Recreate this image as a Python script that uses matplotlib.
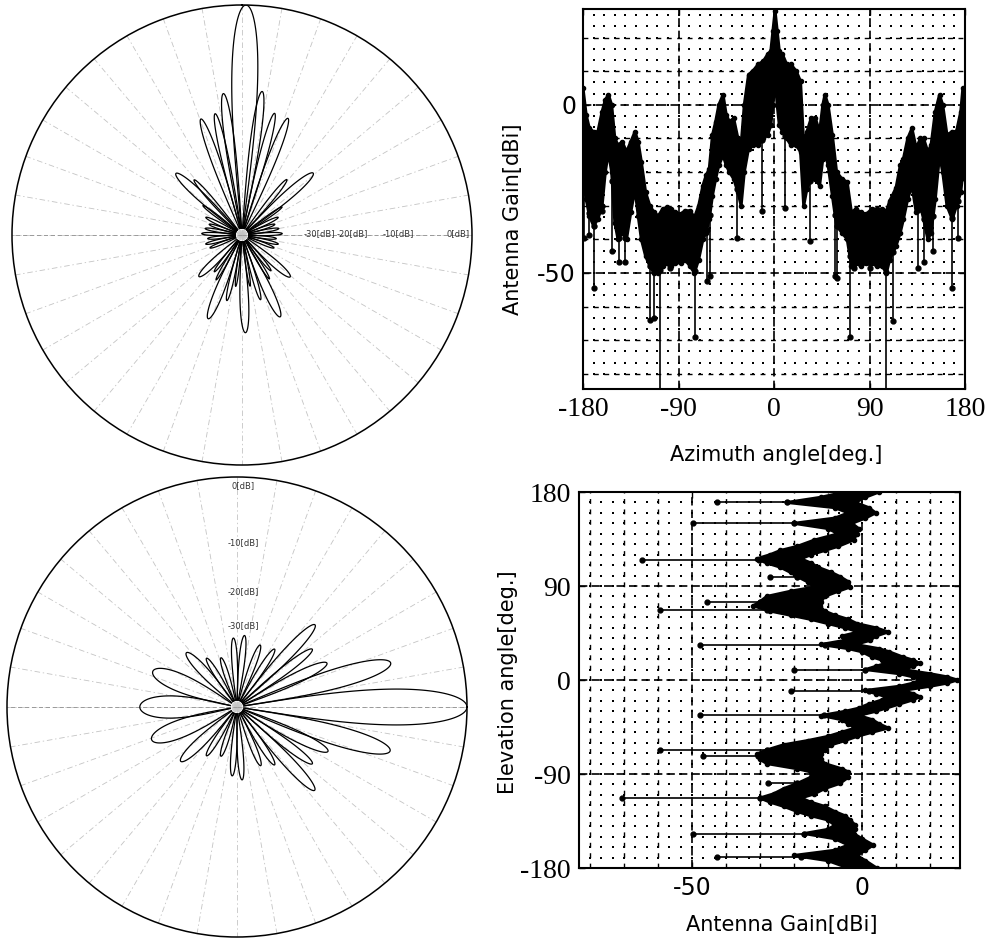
import numpy as np
import matplotlib.pyplot as plt

plt.rcParams['font.family'] = ['DejaVu Sans']
plt.rcParams['lines.scale_dashes'] = False

# ---- azimuth cut (top right): band of the dense trace, upper / lower edge [dBi]
az_angle = [-180, -177, -174, -170, -166, -162, -159, -156, -153, -150, -147, -143, -139, -135,
            -131, -128, -125, -121, -117, -113, -109, -105, -101, -97, -93, -88, -84, -79, -75,
            -71, -67, -64, -61, -58, -55, -52, -48, -45, -42, -38, -34, -31, -28, -24, -20, -15,
            -10, -6, -3, -1, 1, 3, 5, 8, 12, 16, 21, 25, 28, 31, 35, 39, 43, 46, 48, 51, 55, 59,
            64, 69, 73, 77, 82, 87, 92, 97, 102, 106, 109, 115, 119, 122, 126, 130, 134, 138,
            141, 145, 148, 152, 156, 159, 163, 168, 172, 176, 178, 180]
az_top = [5, -3, -7, -8, -8, -2, 1.5, 3, 0, -10, -12, -11, -14, -11,
          -8, -11, -17, -26, -30, -32, -33, -31, -30.5, -31, -32, -32.5, -31.5, -31.5, -33.5,
          -30, -24, -21, -19, -9, -5, 0, 3, -3, -5, -4, -10, -12, 0, 9, 10, 12,
          13, 15, 16, 22, 28, 22, 16, 15, 12, 12, 10, 7, -12, -8, -4, -4, -8, 0, 3, 0, -9, -20,
          -22, -23, -32, -31, -32, -32.5, -31, -31, -31, -31.6, -28.6, -24.7, -18, -16, -10, -7, -12.9, -10,
          -10, -14, -12, -2, 3, 0, -8.9, -8, -7.9, -2, 5, 5]
az_bot = [-22, -28, -33, -36, -34, -30, -20, -14, -20, -35, -40, -38, -40, -32,
          -25, -33, -40, -45, -48, -50, -50, -48, -47, -48, -47, -47, -46, -48, -50,
          -46, -40, -38, -34, -27, -22, -18, -15, -18, -20, -22, -26, -30, -20, -13, -12, -12,
          -10, -9, -6, 0, 8, 0, -6, -8, -10, -12, -12, -14, -30, -25, -22, -22, -24, -16, -14, -18, -27, -36,
          -38, -40, -48, -47, -48, -47, -47, -48, -48, -50, -46, -42, -38, -34, -28, -24, -32, -30,
          -34, -40, -38, -28, -15, -20, -30, -34, -30, -26, -20, -22]
az_null_angle = [-179, -174.5, -170, -162, -152.5, -146, -140, -117, -113.5, -107.5, -98, -74.5,
                 -63.5, -60.5, -35, -11.5, 10.5, 34, 57.5, 59, 71.5, 75.5, 90, 105.5, 112.5,
                 135.5, 141, 150, 167.5, 173.5]
az_null_depth = [-39.6, -38.6, -54.4, -31.6, -43.6, -46.6, -46.6, -64, -63.3, -85, -48.5, -69,
                 -52.5, -51, -39.6, -31.6, -30.6, -40.6, -51, -51.5, -69, -48.5, -48.5, -85, -64.3,
                 -48.5, -46.6, -43.6, -54.5, -39.6]

# ---- elevation cut (bottom right): band of the dense trace, right / left edge [dBi]
el_angle = [180, 175, 170, 165, 160, 155, 150, 145, 140, 134, 128, 124, 120, 116, 112, 108, 103,
            99, 94, 89, 85, 80, 75, 71, 66, 62, 58, 54, 50, 46, 42, 38, 34, 30, 27, 22, 19, 16,
            13, 10, 6, 3, 0, -3, -6, -10, -13, -16, -19, -23, -27, -30, -34, -38, -42, -46, -50,
            -54, -58, -62, -67, -71, -76, -80, -85, -88, -93, -99, -104, -109, -113, -117, -121,
            -126, -130, -134, -139, -143, -147, -152, -158, -163, -168, -173, -180]
el_top = [5, 1, -2, 2, 4, 1, -3, -1, -1.5, -2.5, -7, -11, -15, -18, -15, -13, -9,
          -6.5, -4, -3.5, -7, -11, -12, -12.5, -11, -8, -4, -1.5, 4, 7.7, 4, 2.4, -2, 5, 8, 12, 15, 17,
          15, 12, 20, 25, 28, 25, 20, 12, 15, 17, 15, 11, 7, 4, -1, 3, 5, 7.7, 3,
          -1.5, -5, -9, -11, -12, -12, -11, -6, -4, -4, -6.5, -11, -14, -18, -15, -11,
          -8, -5, -3.5, -2, -2, -2.5, 0, 3.3, 1, -1.5, 1, 4.3]
el_bot = [-5, -12, -22, -8, -4, -8, -20, -10, -7, -14, -19, -24, -27, -31, -28, -24, -21,
          -19, -16, -14, -21, -28, -30, -32, -27, -21, -15, -10, -5, -1, -6, -5, -12, -4, 0, 3, 6, 7,
          4, 1, 11, 15, 17, 15, 11, 1, 4, 7, 6, 2, -1, -5, -12, -6, -4, -2, -6,
          -10, -16, -23, -28, -31, -30, -28, -19, -15, -15, -19, -23, -26, -30, -27, -23,
          -19, -15, -10, -8, -10, -17, -8, -4, -8, -20, -10, -4]
el_null_angle = [170, 150, 115, 99, 75, 67, 33.5, 10, -11, -33.5, -67, -73, -99, -113, -147, -169]
el_null_depth = [-42.7, -49.6, -64.8, -27, -45.7, -59.4, -47.6, -20, -21, -47.6, -59.4, -46.7,
                 -27.5, -70.7, -49.6, -42.7]

# ---- polar patterns: lobe direction [deg], peak [dB], half width [deg]
top_lobe_dir = [1, -7.5, 8, -12.5, 15, -19.5, 21.5, -47, 49, -41, 39, -53, 55,
                178, -158, 155, -167, 164, -134, 131, -143, 141, -150, 148, -173, 171,
                -64, -72, -80, -88, -96, -104, -112,
                64, 72, 80, 88, 96, 104, 112]
top_lobe_peak = [0, -15.2, -14.8, -18.4, -18.1, -18.6, -18.2, -24.3, -23.6, -27.3, -27.6, -31.5, -31.5,
                 -23, -24.3, -24.3, -28.3, -28.3, -29.6, -28.9, -32, -32, -31, -31, -31, -31,
                 -33, -34, -33.5, -33, -34, -33.5, -34,
                 -33, -34, -33.5, -33, -34, -33.5, -34]
top_lobe_width = [6.5, 3.8, 3.8, 3.4, 3.4, 4, 4, 5.5, 5.5, 3.5, 3.5, 3, 3,
                  5, 5.5, 5.5, 3.5, 3.5, 6, 6, 3.5, 3.5, 3, 3, 2.5, 2.5,
                  4, 4, 4, 4, 4, 4, 4,
                  4, 4, 4, 4, 4, 4, 4]

bot_lobe_dir = [0, 16, -16, 26, -26, 37.5, -37, 46.5, -47, 57, -57, 69.5, -68, 84, -86, 93, -94,
                108, -108, 122, -122, 133, -136, 157, -159, 180]
bot_lobe_peak = [0, -12.2, -12.3, -22.6, -22.4, -23.5, -23.6, -20.3, -20.2, -28, -28, -28.5, -29,
                 -27.5, -27.3, -28, -28, -31, -31, -30, -30, -27.1, -26.4, -24.1, -24.1, -23.1]
bot_lobe_width = [9, 7, 7, 6, 6, 5, 5, 5.5, 5.5, 5, 5, 5, 5, 4.5, 4.5, 4.5, 4.5,
                  5, 5, 5, 5, 7, 7, 11, 11, 13]

W, H = 995, 942
fig = plt.figure(figsize=(W / 100, H / 100), dpi=100)


def box(x0, y0, x1, y1):
    return [x0 / W, 1 - y1 / H, (x1 - x0) / W, (y1 - y0) / H]


def px_text(x, y, s, **kw):
    fig.text(x / W, 1 - y / H, s, **kw)


def setup_polar(ax, zero, direction, dark_angles):
    ax.set_theta_zero_location(zero)
    ax.set_theta_direction(direction)
    ax.set_ylim(-40, 0)
    ax.set_xticks(np.radians(np.arange(0, 360, 10)))
    ax.set_xticklabels([])
    ax.set_yticks([])
    ax.xaxis.grid(True, color='#c4c4c4', linestyle=(0, (4, 2, 1, 2)), lw=0.6)
    ax.tick_params(axis='x', length=0)
    ax.spines['polar'].set_linewidth(1.1)
    for a in dark_angles:
        ax.plot([np.radians(a)] * 2, [-40, 0], color='#9a9a9a', ls=(0, (3, 2)), lw=0.7)


def petals(ax, dirs, peaks, widths, q=0.45, base=-38.8):
    for a, p, w in zip(dirs, peaks, widths):
        t = np.linspace(-w, w, 120)
        r = base + (p - base) * np.clip(np.cos(np.pi / 2 * t / w), 0, None) ** q
        ax.plot(np.radians(a + t), r, color='k', lw=0.9)


# top-left polar (azimuth)
axp1 = fig.add_axes(box(12, 5, 472, 465), projection='polar')
setup_polar(axp1, 'N', -1, [90, 270])
petals(axp1, top_lobe_dir, top_lobe_peak, top_lobe_width)
for x, s in [(319, '-30[dB]'), (352, '-20[dB]'), (398, '-10[dB]'), (458, '0[dB]')]:
    px_text(x, 234, s, fontsize=6, ha='center', va='center', color='#333333')

# bottom-left polar (elevation)
axp2 = fig.add_axes(box(7, 477, 467, 937), projection='polar')
setup_polar(axp2, 'E', 1, [0, 180])
petals(axp2, bot_lobe_dir, bot_lobe_peak, bot_lobe_width)
for y, s in [(486, '0[dB]'), (543, '-10[dB]'), (592, '-20[dB]'), (626, '-30[dB]')]:
    px_text(243, y, s, fontsize=6, ha='center', va='center', color='#333333')

dash_light = (0, (3.5, 4))
dash_bold = (0, (6, 3))
serif = 'Liberation Serif'


def style_rect(ax):
    for sp in ax.spines.values():
        sp.set_linewidth(1.5)
        sp.set_zorder(5)
    ax.tick_params(direction='in', length=4, width=1, top=True, right=True)


def dot_lattice(ax, xs, ys):
    gx, gy = np.meshgrid(xs, ys)
    ax.scatter(gx.ravel(), gy.ravel(), s=2.2, marker='s', color='k', lw=0, zorder=0)


# top-right: azimuth cut
ax1 = fig.add_axes(box(583, 9, 965, 389))
ax1.set_xlim(-180, 180)
ax1.set_ylim(-84.5, 28.5)
dot_lattice(ax1, np.arange(-170, 180, 10), np.arange(-80, 28, 10 / 3))
for v in [-90, 0, 90]:
    ax1.axvline(v, color='k', ls=dash_bold, lw=1.2, zorder=0)
for h in np.arange(-80, 28, 10):
    if h in (0, -50):
        ax1.axhline(h, color='k', ls=dash_bold, lw=1.2, zorder=0)
    else:
        ax1.axhline(h, color='k', ls=dash_light, lw=1.0, zorder=0)
ax1.fill_between(az_angle, az_bot, az_top, color='k', lw=0, zorder=2)
ax1.plot(az_angle, az_top, color='k', lw=2.2, marker='o', ms=3, zorder=3)
ax1.plot(az_angle, az_bot, color='k', lw=2.2, marker='o', ms=3, zorder=3)
for a, d in zip(az_null_angle, az_null_depth):
    base = np.interp(a, az_angle, az_bot)
    ax1.plot([a, a], [base, d], color='k', lw=1.2, marker='o', ms=3.5, zorder=3)
ax1.set_xticks([-180, -90, 0, 90, 180])
ax1.set_xticklabels(['-180', '-90', '0', '90', '180'], fontsize=20, family=serif)
ax1.set_yticks([0, -50])
ax1.set_yticklabels(['0', '-50'], fontsize=17)
style_rect(ax1)
ax1.tick_params(axis='x', pad=6)
ax1.tick_params(axis='y', pad=5)
px_text(776, 455, 'Azimuth angle[deg.]', fontsize=15, ha='center', va='center')
px_text(513, 219, 'Antenna Gain[dBi]', fontsize=15, ha='center', va='center', rotation=90)

# bottom-right: elevation cut
ax2 = fig.add_axes(box(579, 492, 960, 868))
ax2.set_xlim(-83.2, 28.8)
ax2.set_ylim(-180, 180)
dot_lattice(ax2, np.arange(-80, 28, 10 / 3), np.arange(-170, 180, 10))
for h in [-90, 0, 90]:
    ax2.axhline(h, color='k', ls=dash_bold, lw=1.2, zorder=0)
for v in np.arange(-80, 28, 10):
    if v in (0, -50):
        ax2.axvline(v, color='k', ls=dash_bold, lw=1.2, zorder=0)
    else:
        ax2.axvline(v, color='k', ls=dash_light, lw=1.0, zorder=0)
ax2.fill_betweenx(el_angle, el_bot, el_top, color='k', lw=0, zorder=2)
ax2.plot(el_top, el_angle, color='k', lw=2.2, marker='o', ms=3, zorder=3)
ax2.plot(el_bot, el_angle, color='k', lw=2.2, marker='o', ms=3, zorder=3)
for a, d in zip(el_null_angle, el_null_depth):
    base = np.interp(-a, [-v for v in el_angle], el_bot)
    ax2.plot([base, d], [a, a], color='k', lw=1.2, marker='o', ms=3.5, zorder=3)
ax2.set_yticks([180, 90, 0, -90, -180])
ax2.set_yticklabels(['180', '90', '0', '-90', '-180'], fontsize=20, family=serif)
ax2.set_xticks([-50, 0])
ax2.set_xticklabels(['-50', '0'], fontsize=17)
style_rect(ax2)
ax2.tick_params(axis='x', pad=6)
ax2.tick_params(axis='y', pad=6)
px_text(782, 925, 'Antenna Gain[dBi]', fontsize=15, ha='center', va='center')
px_text(508, 682, 'Elevation angle[deg.]', fontsize=15, ha='center', va='center', rotation=90)

fig.savefig('out.png', dpi=100)
